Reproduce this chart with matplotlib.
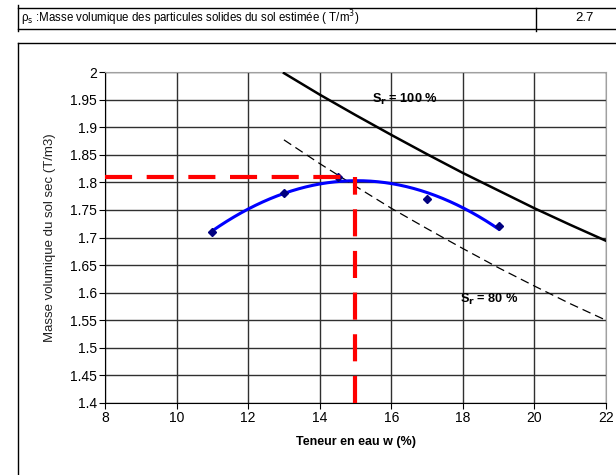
import numpy as np
import matplotlib
matplotlib.use("Agg")
import matplotlib.pyplot as plt
from matplotlib.lines import Line2D

plt.rcParams['font.family'] = ['Liberation Sans', 'DejaVu Sans']

# Measured points (water content %, dry density T/m3)
w_pts = [11, 13, 14.5, 17, 19]
rho_pts = [1.71, 1.78, 1.81, 1.77, 1.72]

# Saturation curves
w_sat = [13, 14, 15, 16, 17, 18, 19, 20, 21, 22]
rho_sr100 = [1.998, 1.959, 1.922, 1.886, 1.851, 1.817, 1.785, 1.753, 1.723, 1.694]
rho_sr80 = [1.877, 1.834, 1.793, 1.753, 1.716, 1.680, 1.645, 1.612, 1.580, 1.550]

# Optimum
w_opt = 15
rho_opt = 1.81

rho_s_label = "2.7"

fig = plt.figure(figsize=(6.16, 4.75), dpi=100)
W, H = 616, 475
ax = fig.add_axes([105 / W, 1 - 403 / H, (606 - 105) / W, (403 - 72) / H])

# Trend line (2nd order polynomial fit of measured points)
coef = np.polyfit(w_pts, rho_pts, 2)
wf = np.linspace(min(w_pts), max(w_pts), 200)
ax.plot(wf, np.polyval(coef, wf), color='#0000ff', lw=2.2, zorder=4)
ax.plot(w_pts, rho_pts, linestyle='none', marker='D', ms=4.5, color='#000080', zorder=5)

ax.plot(w_sat, rho_sr100, color='black', lw=1.8, zorder=3)
ax.plot(w_sat, rho_sr80, color='black', lw=0.9, dashes=(7, 4), zorder=3)

ax.plot([8, w_opt], [rho_opt, rho_opt], color='#ff0000', lw=3, dashes=(6.5, 3.5), zorder=6)
ax.plot([w_opt, w_opt], [1.4, rho_opt], color='#ff0000', lw=3, dashes=(6.5, 3.5), zorder=6)

ax.text(15.45, 1.951, r"S$_\mathbf{r}$ = 100 %", fontsize=9.2, fontweight='bold', va='center', ha='left')
ax.text(17.92, 1.587, r"S$_\mathbf{r}$ = 80 %", fontsize=9.2, fontweight='bold', va='center', ha='left')

ax.set_xlim(8, 22)
ax.set_ylim(1.4, 2.0)
ax.set_xticks(np.arange(8, 23, 2))
ax.set_yticks(np.round(np.arange(1.4, 2.001, 0.05), 2))
ax.set_yticklabels([f"{v:g}" for v in np.round(np.arange(1.4, 2.001, 0.05), 2)])
ax.grid(True, color='#303030', lw=1.0)
ax.set_axisbelow(True)
for s in ['top', 'right']:
    ax.spines[s].set_color('#a0a0a0')
for s in ['left', 'bottom']:
    ax.spines[s].set_color('black')
ax.tick_params(direction='out', length=4, labelsize=10, pad=2)
ax.set_xlabel("Teneur en eau w (%)", fontsize=9, fontweight='bold', labelpad=8)
ax.set_ylabel("Masse volumique du sol sec (T/m3)", fontsize=9.5, color='#202020', labelpad=10)

# Table row and frame
def hline(y, x0, x1, lw=1.0, c='black'):
    fig.add_artist(Line2D([x0 / W, x1 / W], [1 - y / H, 1 - y / H], color=c, lw=lw))

def vline(x, y0, y1, lw=1.0, c='black'):
    fig.add_artist(Line2D([x / W, x / W], [1 - y0 / H, 1 - y1 / H], color=c, lw=lw))

hline(8, 18, 616)
hline(29, 18, 616)
vline(18, 5, 31)
vline(536, 8, 31)
hline(43, 18, 616)
vline(18, 43, 475)

fig.text(21 / W, 1 - 18 / H, r"ρ$_\mathrm{s}$ :Masse volumique des particules solides du sol estimée ( T/m$^\mathrm{3}$)",
         fontsize=8.3, va='center', ha='left')
fig.text(585 / W, 1 - 18 / H, rho_s_label, fontsize=9.5, va='center', ha='center')

fig.savefig("out.png", dpi=100)
